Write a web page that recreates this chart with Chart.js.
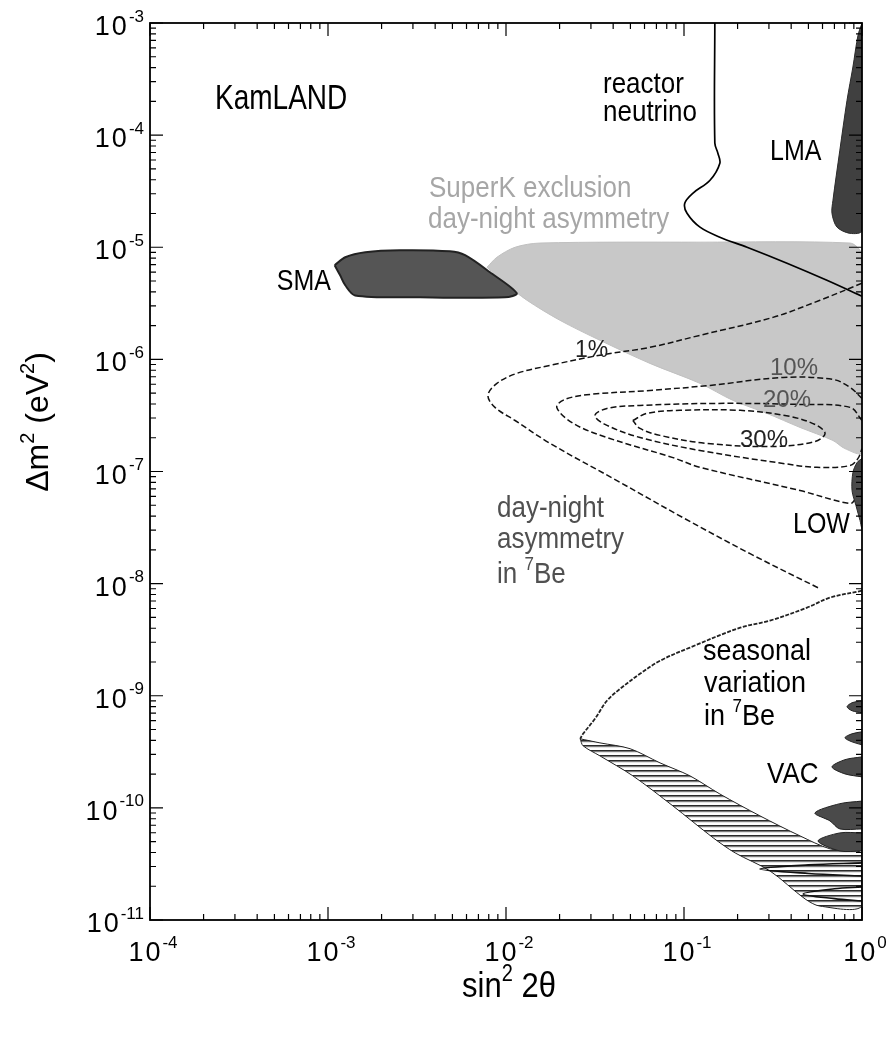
<!DOCTYPE html>
<html>
<head>
<meta charset="utf-8">
<script src="https://cdn.jsdelivr.net/npm/chart.js@4.4.1/dist/chart.umd.min.js"></script>
<style>
  html, body { margin: 0; padding: 0; background: #fff; }
  #wrap { width: 894px; height: 1037px; position: relative; }
</style>
</head>
<body>
<div id="wrap"><canvas id="chart"></canvas></div>
<script>
// axis ticks (sin^2 2theta, delta m^2)
const xTickValues = [1e-4, 1e-3, 1e-2, 1e-1, 1];
const xTickExps = ["-4", "-3", "-2", "-1", "0"];
const yTickValues = [1e-3, 1e-4, 1e-5, 1e-6, 1e-7, 1e-8, 1e-9, 1e-10, 1e-11];
const yTickExps = ["-3", "-4", "-5", "-6", "-7", "-8", "-9", "-10", "-11"];

// regions / curves, [sin^2 2theta, dm^2]
const reactorLine = [[0.149, 1e-3], [0.149, 8.49e-5], [0.155, 6.9e-5], [0.159, 5.62e-5], [0.14, 3.96e-5],
  [0.112, 3.03e-5], [0.101, 2.47e-5], [0.104, 2.01e-5], [0.123, 1.51e-5], [0.159, 1.23e-5],
  [0.226, 1.0e-5], [0.379, 7.2e-6], [0.635, 5.07e-6], [1, 3.65e-6]];

const lmaRegion = [[1, 1e-3], [0.95, 7.8e-4], [0.889, 4.05e-4], [0.824, 2.05e-4], [0.751, 7.35e-5],
  [0.687, 2.63e-5], [0.678, 2.01e-5], [0.724, 1.51e-5], [0.857, 1.33e-5], [1, 1.41e-5], [1, 1e-3]];

const smaRegion = [[1.09e-3, 6.9e-6], [1.25e-3, 8.14e-6], [1.62e-3, 9.02e-6], [2.54e-3, 9.4e-6],
  [4.84e-3, 9.2e-6], [5.89e-3, 8.49e-6], [8.13e-3, 5.98e-6], [1.15e-2, 3.89e-6], [9.87e-3, 3.58e-6],
  [3.29e-3, 3.58e-6], [1.42e-3, 3.72e-6], [1.25e-3, 4.58e-6], [1.17e-3, 5.62e-6], [1.09e-3, 6.9e-6]];

const superKRegion = [[7.82e-3, 6.62e-6], [8.89e-3, 8.14e-6], [1.125e-2, 1.0e-5], [1.55e-2, 1.09e-5],
  [0.123, 1.11e-5], [0.857, 1.09e-5], [0.975, 9.4e-6], [1, 7.66e-6], [1, 1.48e-7], [0.802, 1.6e-7],
  [0.687, 1.89e-7], [0.449, 2.47e-7], [0.292, 3.3e-7], [0.188, 4.31e-7], [0.123, 6.11e-7],
  [6.44e-2, 9.2e-7], [3.37e-2, 1.48e-6], [2.01e-2, 2.23e-6], [1.31e-2, 3.37e-6], [9.87e-3, 4.78e-6],
  [7.82e-3, 6.62e-6]];

const dn1 = [[1, 4.78e-6], [0.581, 3.37e-6], [0.316, 2.37e-6], [0.123, 1.64e-6], [6.44e-2, 1.28e-6],
  [3.37e-2, 1.09e-6], [1.77e-2, 8.84e-7], [1.15e-2, 7.5e-7], [8.89e-3, 6.11e-7], [7.92e-3, 4.78e-7],
  [8.67e-3, 3.73e-7], [1.125e-2, 2.85e-7], [1.77e-2, 1.78e-7], [4.2e-2, 8.3e-8], [9.86e-2, 3.88e-8],
  [0.235, 1.85e-8], [0.581, 9.0e-9]];

const dn10 = [[1, 4.49e-7], [0.857, 5.62e-7], [0.687, 6.62e-7], [0.36, 6.9e-7], [0.14, 5.86e-7],
  [6.44e-2, 5.28e-7], [2.97e-2, 4.87e-7], [2.14e-2, 4.39e-7], [1.93e-2, 3.73e-7], [2.38e-2, 2.69e-7],
  [3.69e-2, 2.01e-7], [8.67e-2, 1.33e-7], [0.123, 1.09e-7], [0.449, 6.76e-8], [0.857, 5.18e-8],
  [0.925, 5.74e-8]];

const dn20 = [[1, 2.85e-7], [0.857, 3.73e-7], [0.449, 3.96e-7], [0.153, 4.05e-7], [5.66e-2, 3.88e-7],
  [3.69e-2, 3.65e-7], [3.16e-2, 3.16e-7], [3.6e-2, 2.63e-7], [5.66e-2, 2.01e-7], [0.123, 1.54e-7],
  [0.36, 1.18e-7], [0.558, 1.09e-7], [0.857, 1.13e-7], [0.95, 1.31e-7], [1, 1.6e-7]];

const dn30 = [[5.16e-2, 2.85e-7], [6.19e-2, 3.3e-7], [9.5e-2, 3.51e-7], [0.207, 3.51e-7], [0.394, 3.1e-7],
  [0.558, 2.58e-7], [0.62, 2.18e-7], [0.544, 1.85e-7], [0.316, 1.67e-7], [0.135, 1.78e-7],
  [7.33e-2, 2.1e-7], [5.66e-2, 2.42e-7], [5.16e-2, 2.85e-7]];

const lowRegion = [[1, 1.31e-7], [0.938, 1.2e-7], [0.889, 9.8e-8], [0.879, 6.76e-8], [0.925, 4.96e-8],
  [0.975, 3.65e-8], [1, 3.1e-8], [1, 1.31e-7]];

const seasonalLine = [[1, 8.65e-9], [0.661, 7.5e-9], [0.491, 6.11e-9], [0.304, 4.68e-9], [0.207, 4.05e-9],
  [0.108, 2.69e-9], [7.33e-2, 2.05e-9], [5.66e-2, 1.57e-9], [4.37e-2, 1.15e-9], [3.69e-2, 9.02e-10],
  [3.16e-2, 6.23e-10], [2.71e-2, 4.58e-10], [2.61e-2, 4.13e-10]];

const vacBand = [[2.61e-2, 4.13e-10], [3.37e-2, 3.8e-10], [4.98e-2, 3.37e-10], [7.33e-2, 2.52e-10],
  [0.108, 1.93e-10], [0.159, 1.33e-10], [0.267, 8.49e-11], [0.449, 5.62e-11], [0.661, 4.31e-11],
  [1, 3.88e-11], [1, 1.33e-11], [0.581, 1.33e-11], [0.479, 1.54e-11], [0.304, 2.74e-11],
  [0.194, 3.96e-11], [0.146, 5.4e-11], [8.67e-2, 1.04e-10], [5.16e-2, 1.93e-10], [3.37e-2, 2.91e-10],
  [2.71e-2, 3.58e-10], [2.61e-2, 4.13e-10]];

const vacLobes = [
  [[1, 9.02e-10], [0.879, 8.66e-10], [0.824, 7.98e-10], [0.879, 7.35e-10], [1, 7.05e-10]],
  [[1, 4.77e-10], [0.879, 4.58e-10], [0.802, 4.22e-10], [0.879, 3.88e-10], [1, 3.65e-10]],
  [[1, 2.85e-10], [0.802, 2.69e-10], [0.678, 2.32e-10], [0.802, 2.01e-10], [1, 1.89e-10]],
  [[1, 1.15e-10], [0.751, 1.09e-10], [0.544, 9.02e-11], [0.661, 7.65e-11], [0.751, 6.49e-11], [1, 6.49e-11]],
  [[1, 5.98e-11], [0.751, 5.98e-11], [0.566, 5.07e-11], [0.751, 4.13e-11], [1, 4.13e-11]],
];

const vacLoops = [
  [[1, 3.23e-11], [0.5, 3.1e-11], [0.267, 2.85e-11], [0.5, 2.6e-11], [1, 2.47e-11]],
  [[1, 1.97e-11], [0.7, 1.9e-11], [0.467, 1.71e-11], [0.7, 1.55e-11], [1, 1.48e-11]],
];

const FONT = '"Liberation Sans", Arial, Helvetica, sans-serif';

// text labels inside the plot, pixel anchors
const notes = [
  { t: "KamLAND", x: 215, y: 109, size: 28, sy: 1.25 },
  { t: "reactor", x: 603, y: 93, size: 26, sy: 1.1 },
  { t: "neutrino", x: 603, y: 121, size: 26, sy: 1.1 },
  { t: "LMA", x: 770, y: 160, size: 25, sy: 1.15 },
  { t: "SuperK exclusion", x: 429, y: 197, size: 26, color: "#a6a6a6", sy: 1.1 },
  { t: "day-night asymmetry", x: 428, y: 228, size: 26, color: "#a6a6a6", sy: 1.1 },
  { t: "SMA", x: 331, y: 290, size: 25, align: "right", sy: 1.15 },
  { t: "1%", x: 575, y: 357, size: 23, color: "#222" },
  { t: "10%", x: 770, y: 375, size: 24, color: "#555" },
  { t: "20%", x: 763, y: 407, size: 24, color: "#555" },
  { t: "30%", x: 740, y: 447, size: 24, color: "#222" },
  { t: "day-night", x: 497, y: 517, size: 26, color: "#505050", sy: 1.1 },
  { t: "asymmetry", x: 497, y: 548, size: 26, color: "#505050", sy: 1.1 },
  { t: "in ^7^Be", x: 497, y: 583, size: 26, color: "#505050", sy: 1.1 },
  { t: "LOW", x: 793, y: 533, size: 25, sy: 1.15 },
  { t: "seasonal", x: 703, y: 660, size: 27, sy: 1.1 },
  { t: "variation", x: 704, y: 692, size: 27, sy: 1.1 },
  { t: "in ^7^Be", x: 704, y: 725, size: 27, sy: 1.1 },
  { t: "VAC", x: 767, y: 783, size: 26, sy: 1.15 },
];

function pts(list) {
  return list.map(([x, y]) => ({ x, y }));
}

function drawRich(ctx, text, x, y, o) {
  const size = o.size || 24;
  const parts = text.split("^").map((t, i) => ({ t, sup: i % 2 === 1 }));
  ctx.save();
  ctx.translate(x, y);
  if (o.rotate) ctx.rotate(o.rotate);
  ctx.scale(1, o.sy || 1);
  ctx.fillStyle = o.color || "#000";
  ctx.textAlign = "left";
  ctx.textBaseline = "alphabetic";
  let total = 0;
  parts.forEach((p) => {
    p.s = p.sup ? Math.round(size * (o.supScale || 0.64)) : size;
    ctx.font = `${p.s}px ${FONT}`;
    ctx.letterSpacing = p.sup ? "0px" : (o.spacing || "0px");
    p.w = ctx.measureText(p.t).width;
    total += p.w;
  });
  let cx = o.align === "right" ? -total : o.align === "center" ? -total / 2 : 0;
  parts.forEach((p) => {
    ctx.font = `${p.s}px ${FONT}`;
    ctx.letterSpacing = p.sup ? "0px" : (o.spacing || "0px");
    ctx.fillText(p.t, cx, p.sup ? -size * (o.supRaise || 0.45) : 0);
    cx += p.w;
  });
  ctx.restore();
}

function stripePattern() {
  const c = document.createElement("canvas");
  c.width = 8;
  c.height = 5;
  const g = c.getContext("2d");
  g.fillStyle = "rgba(20,20,20,0.9)";
  g.fillRect(0, 0, 8, 1.6);
  g.fillStyle = "rgba(120,120,120,0.35)";
  g.fillRect(0, 1.6, 8, 1);
  return document.getElementById("chart").getContext("2d").createPattern(c, "repeat");
}

function region(list, fill, border, order, bw = 1) {
  return { data: pts(list), showLine: true, fill: "shape", backgroundColor: fill, borderColor: border,
    borderWidth: bw, pointRadius: 0, tension: 0.3, order };
}

function curve(list, dash, order, width = 1.5, color = "#111") {
  return { data: pts(list), showLine: true, fill: false, borderColor: color, borderWidth: width,
    borderDash: dash, pointRadius: 0, tension: 0.35, order };
}

const framePlugin = {
  id: "frame",
  afterDraw(chart) {
    const ctx = chart.ctx;
    const { left, right, top, bottom } = chart.chartArea;
    const xs = chart.scales.x;
    const ys = chart.scales.y;
    ctx.save();
    ctx.strokeStyle = "#000";
    ctx.lineWidth = 1.8;
    ctx.strokeRect(left, top, right - left, bottom - top);

    ctx.lineWidth = 1.2;
    ctx.beginPath();
    xTickValues.forEach((v, i) => {
      const mults = i < xTickValues.length - 1 ? [1, 2, 3, 4, 5, 6, 7, 8, 9] : [1];
      mults.forEach((m) => {
        const px = xs.getPixelForValue(v * m);
        const len = m === 1 ? 13 : 6;
        ctx.moveTo(px, bottom);
        ctx.lineTo(px, bottom - len);
        ctx.moveTo(px, top);
        ctx.lineTo(px, top + len);
      });
    });
    yTickValues.forEach((v, i) => {
      const mults = i > 0 ? [1, 2, 3, 4, 5, 6, 7, 8, 9] : [1];
      mults.forEach((m) => {
        const py = ys.getPixelForValue(v * m);
        const len = m === 1 ? 13 : 6;
        ctx.moveTo(left, py);
        ctx.lineTo(left + len, py);
        ctx.moveTo(right, py);
        ctx.lineTo(right - len, py);
      });
    });
    ctx.stroke();
    ctx.restore();

    const tickOpts = { size: 27, spacing: "2px", supScale: 0.62, supRaise: 0.5 };
    xTickValues.forEach((v, i) => {
      drawRich(ctx, "10^" + xTickExps[i], xs.getPixelForValue(v) + 3, bottom + 41, { ...tickOpts, align: "center" });
    });
    yTickValues.forEach((v, i) => {
      drawRich(ctx, "10^" + yTickExps[i], left - 6, ys.getPixelForValue(v) + 12, { ...tickOpts, align: "right" });
    });

    drawRich(ctx, "sin^2^ 2θ", 509, 997, { size: 31, align: "center", sy: 1.15 });
    drawRich(ctx, "Δm^2^ (eV^2^)", 48, 422, { size: 32, align: "center", rotate: -Math.PI / 2 });

    notes.forEach((n) => drawRich(ctx, n.t, n.x, n.y, n));
  },
};

const datasets = [
  region(superKRegion, "#c8c8c8", "#c0c0c0", 20),
  region(vacBand, stripePattern(), "#222", 15, 1),
  curve(dn1, [6, 3], 10),
  curve(dn10, [6, 3], 10),
  curve(dn20, [6, 3], 10),
  curve(dn30, [6, 3], 10),
  curve(reactorLine, [], 8, 1.7, "#000"),
  curve(seasonalLine, [4, 1.5], 8, 1.8, "#222"),
  region(lmaRegion, "#404040", "#2a2a2a", 5),
  region(smaRegion, "#555555", "#222", 5, 2),
  region(lowRegion, "#4a4a4a", "#2a2a2a", 5),
  ...vacLobes.map((l) => region(l, "#4a4a4a", "#222", 4)),
  ...vacLoops.map((l) => curve(l, [], 3, 1.6, "#111")),
];

new Chart(document.getElementById("chart"), {
  type: "scatter",
  data: { datasets },
  options: {
    responsive: true,
    maintainAspectRatio: false,
    animation: false,
    events: [],
    layout: { padding: { left: 150, right: 32, top: 23, bottom: 117 } },
    plugins: { legend: { display: false }, tooltip: { enabled: false } },
    scales: {
      x: { type: "logarithmic", min: 1e-4, max: 1, display: false },
      y: { type: "logarithmic", min: 1e-11, max: 1e-3, display: false },
    },
  },
  plugins: [framePlugin],
});
</script>
</body>
</html>
